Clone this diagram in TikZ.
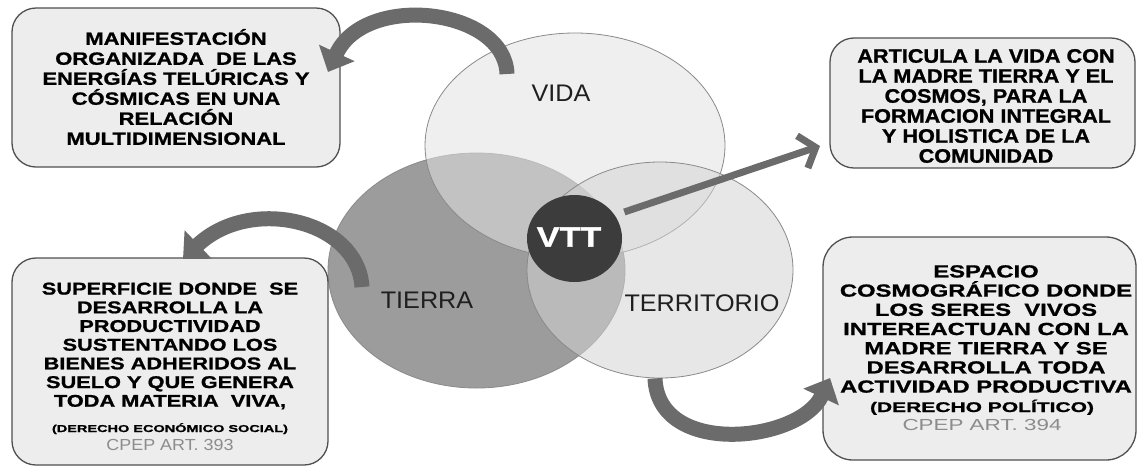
\documentclass[tikz,border=0pt]{standalone}
\usepackage{fontspec}
\setmainfont{Liberation Sans}
\newfontfamily\boxfam[BoldFeatures={FakeBold=1.1}]{Liberation Sans}
\usetikzlibrary{arrows.meta,shapes.geometric,calc}
\definecolor{arrowgray}{HTML}{6B6B6B}
\definecolor{boxfill}{HTML}{EDEDED}
\definecolor{boxline}{HTML}{505050}
\definecolor{ringline}{HTML}{8A8A8A}
\definecolor{tierrafill}{HTML}{9C9C9C}
\definecolor{vidafill}{HTML}{E2E2E2}
\definecolor{terrfill}{HTML}{D4D4D4}
\definecolor{vttfill}{HTML}{3C3C3C}
\definecolor{cpepgray}{HTML}{8C8C8C}
\newcommand\setbx[3]{\boxfam\bfseries\fontsize{#1}{#2}\selectfont\addfontfeature{FakeStretch=#3}}
\newcommand\setrg[3]{\boxfam\fontsize{#1}{#2}\selectfont\addfontfeature{FakeStretch=#3}}
\begin{document}
\begin{tikzpicture}[x=1pt,y=-1pt,
  ring/.style={ellipse, draw=ringline, line width=0.8pt, inner sep=0pt},
  box/.style={rectangle, draw=boxline, line width=1.3pt, fill=boxfill, rounded corners=24pt, inner sep=0pt},
  boxtext/.style={align=center, inner sep=0pt, text=black},
  lbl/.style={inner sep=0pt, text=black!88, font={\setrg{24}{24}{1.05}}},
  curv/.style={arrowgray, line width=15pt, -{Triangle[length=21pt,width=38pt]}},
  straight/.style={arrowgray, line width=7pt, -{Straight Barb[length=14pt,width=34pt]}}]
\useasboundingbox[fill=white] (0,0) rectangle (1137,467);

% circles
\node[ring, fill=tierrafill, minimum width=297pt, minimum height=235pt] (tierra) at (476.5,270.5) {};
\node[ring, fill=vidafill, fill opacity=0.55, minimum width=300pt, minimum height=225pt] (vida) at (575,145.5) {};
\node[ring, fill=terrfill, fill opacity=0.54, minimum width=266pt, minimum height=216pt] (territorio) at (660,270) {};
\node[ellipse, fill=vttfill, inner sep=0pt, minimum width=95pt, minimum height=87pt] (vtt) at (574.5,238.5) {};
\node[inner sep=0pt, text=white, font={\setbx{28}{28}{1.22}}] (vttlbl) at (569,237) {VTT};

\node[lbl] (vidalbl) at (561,93) {VIDA};
\node[lbl] (tierralbl) at (427,300) {TIERRA};
\node[lbl] (terrlbl) at (702,303) {TERRITORIO};

% boxes
\node[box, minimum width=328pt, minimum height=159pt] (b1) at (176,87.5) {};
\node[box, minimum width=305pt, minimum height=130pt] (b2) at (982.5,103) {};
\node[box, minimum width=316pt, minimum height=207pt] (b3) at (170,361.5) {};
\node[box, minimum width=313pt, minimum height=223pt, rounded corners=30pt] (b4) at (979.5,348.5) {};

\node[boxtext, font={\setbx{17.7}{20}{1.24}}] (t1) at (176,87) {MANIFESTACIÓN\\ORGANIZADA\ \ DE LAS\\ENERGÍAS TELÚRICAS Y\\CÓSMICAS EN UNA\\RELACIÓN\\MULTIDIMENSIONAL};
\node[boxtext, font={\setbx{19.5}{20}{1.11}}] (t2) at (986,106) {ARTICULA LA VIDA CON\\LA MADRE TIERRA Y EL\\COSMOS, PARA LA\\FORMACION INTEGRAL\\Y HOLISTICA DE LA\\COMUNIDAD};
\node[boxtext, font={\setbx{17}{18.7}{1.28}}] (t3) at (170,346) {SUPERFICIE DONDE\ \ SE\\DESARROLLA LA\\PRODUCTIVIDAD\\SUSTENTANDO LOS\\BIENES ADHERIDOS AL\\SUELO Y QUE GENERA\\TODA MATERIA\ \ VIVA,};
\node[boxtext, anchor=base, font={\setbx{10}{10}{1.45}}] (t3a) at (170,432) {(DERECHO ECONÓMICO SOCIAL)};
\node[boxtext, anchor=base, text=cpepgray, font={\setrg{16}{16}{1.12}}] (t3b) at (170,450) {CPEP ART. 393};
\node[boxtext, font={\setbx{17.5}{19.2}{1.36}}] (t4) at (986,329) {ESPACIO\\COSMOGRÁFICO DONDE\\LOS SERES\ \ VIVOS\\INTEREACTUAN CON LA\\MADRE TIERRA Y SE\\DESARROLLA TODA\\ACTIVIDAD PRODUCTIVA};
\node[boxtext, anchor=base, font={\setbx{14}{14}{1.5}}] (t4a) at (982,412) {(DERECHO POLÍTICO)};
\node[boxtext, anchor=base, text=cpepgray, font={\setrg{16}{16}{1.4}}] (t4b) at (982,430) {CPEP ART. 394};

% connectors
\coordinate (a1s) at (507,74);
\coordinate (a1e) at (328,72);
\coordinate (a2s) at (362,287);
\coordinate (a2e) at (183,259);
\coordinate (a3e) at (830,378);
\coordinate (a4e) at (820,146);
\draw[curv] (a1s) .. controls (505,8) and (365,-8) .. (a1e);
\draw[curv] (a2s) .. controls (358,220) and (250,195) .. (a2e);
\draw[curv] ($(territorio.south)+(-5,0)$) .. controls (658,458) and (800,442) .. (a3e);
\draw[straight, shorten <=10pt] (vtt.30) -- (a4e);
\end{tikzpicture}
\end{document}
